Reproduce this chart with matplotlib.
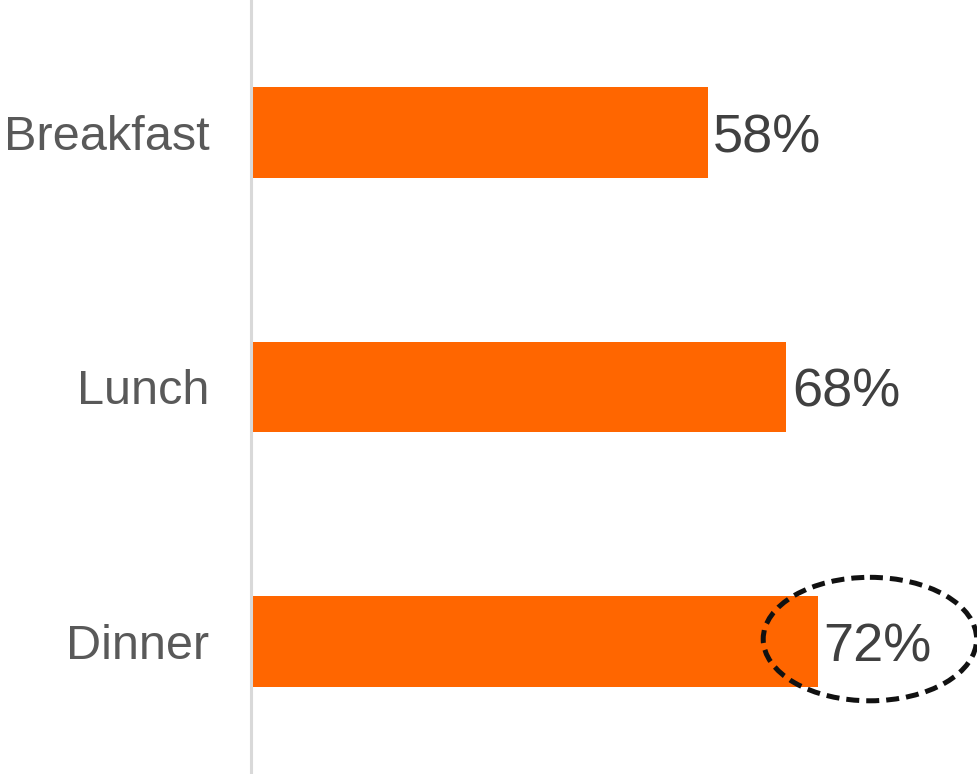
import matplotlib.pyplot as plt
from matplotlib.patches import Ellipse

meals = ['Breakfast', 'Lunch', 'Dinner']
share = [58, 68, 72]

bar_color = '#FF6600'

plt.rcParams['font.family'] = ['Liberation Sans', 'DejaVu Sans']

fig = plt.figure(figsize=(9.77, 7.74), dpi=100)
ax = fig.add_axes([251 / 977, 0.0, 1 - 251 / 977, 1.0])

ypos = list(range(len(meals)))
ax.barh(ypos, share, height=0.355, color=bar_color)

# baseline placed so the digits sit centred on the bar
for y, v in zip(ypos, share):
    ax.annotate(f'{v}%', (v, y), xytext=(4, -14.2), textcoords='offset points',
                va='baseline', ha='left', fontsize=39, color='#404040')

ax.set_xlim(0, 92.2)
ax.set_ylim(2.52, -0.52)
ax.set_yticks(ypos)
ax.set_yticklabels(meals, fontsize=35, color='#595959')
ax.tick_params(axis='y', length=0, pad=30)
ax.set_xticks([])

for side in ['top', 'right', 'bottom']:
    ax.spines[side].set_visible(False)
ax.spines['left'].set_color('#D9D9D9')
ax.spines['left'].set_linewidth(2.2)

# dashed ring around the dinner value
ring = Ellipse((78.6, 1.99), 27.1, 0.485, fill=False, edgecolor='#111111',
               linewidth=3.6, linestyle=(0, (2.6, 1.4)), clip_on=False)
ax.add_patch(ring)

fig.savefig('out.png', dpi=100)
